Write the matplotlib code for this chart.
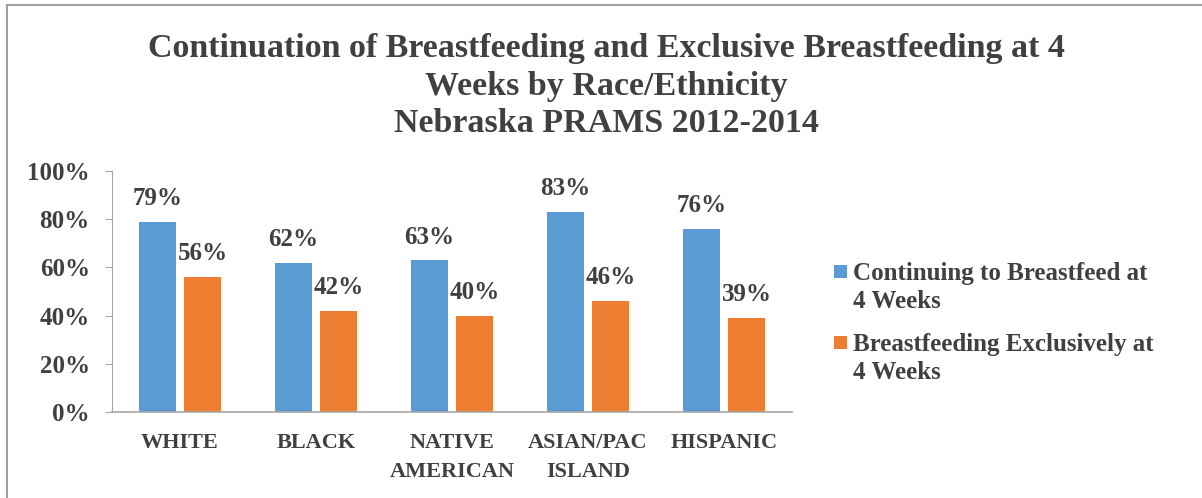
import matplotlib.pyplot as plt
from matplotlib.lines import Line2D
import matplotlib.patches as patches
import numpy as np

categories = ['WHITE', 'BLACK', 'NATIVE\nAMERICAN', 'ASIAN/PAC\nISLAND', 'HISPANIC']
continuing = [79, 62, 63, 83, 76]
exclusive = [56, 42, 40, 46, 39]
series_names = ['Continuing to Breastfeed at\n4 Weeks', 'Breastfeeding Exclusively at\n4 Weeks']
title = ('Continuation of Breastfeeding and Exclusive Breastfeeding at 4\n'
         'Weeks by Race/Ethnicity\nNebraska PRAMS 2012-2014')

blue = '#5b9bd5'
orange = '#ed7d31'
txt = '#404040'
W, H = 1202, 498
plt.rcParams['font.family'] = ['Liberation Serif', 'DejaVu Serif']
plt.rcParams['font.weight'] = 'bold'

fig = plt.figure(figsize=(W / 100, H / 100), dpi=100)
# outer frame (top and left edges only)
fig.lines.append(Line2D([7 / W, 1], [1 - 5 / H, 1 - 5 / H], transform=fig.transFigure,
                        color='#a0a0a0', linewidth=1.5))
fig.lines.append(Line2D([7 / W, 7 / W], [0, 1 - 5 / H], transform=fig.transFigure,
                        color='#a0a0a0', linewidth=1.5))

ax = fig.add_axes([112 / W, 1 - 412 / H, 680 / W, 241 / H])
x = np.arange(len(categories))
w = 0.272
off = 0.166
b1 = ax.bar(x - off, continuing, w, color=blue)
b2 = ax.bar(x + off, exclusive, w, color=orange)
for bars, vals in [(b1, continuing), (b2, exclusive)]:
    for r, v in zip(bars, vals):
        ax.annotate('{}%'.format(v), (r.get_x() + r.get_width() / 2, v), xytext=(0, 12),
                    textcoords='offset points', ha='center', va='baseline',
                    fontsize=18, color=txt, fontweight='bold')

ax.set_xlim(-0.5, len(categories) - 0.5)
ax.set_ylim(0, 100)
ax.set_yticks(range(0, 101, 20))
ax.set_yticklabels(['{}%'.format(t) for t in range(0, 101, 20)], fontsize=18, color=txt)
ax.set_xticks(x)
ax.set_xticklabels(categories, fontsize=16, color=txt, linespacing=1.6)
ax.tick_params(axis='x', length=0, pad=15)
ax.tick_params(axis='y', length=5, color='#a6a6a6', pad=11)
for s in ['top', 'right']:
    ax.spines[s].set_visible(False)
ax.spines['left'].set_color('#a6a6a6')
ax.spines['bottom'].set_color('#a6a6a6')
ax.spines['bottom'].set_linewidth(1.2)

fig.text(606 / W, 1 - 86 / H, title, ha='center', va='center', fontsize=24.5,
         color=txt, fontweight='bold', linespacing=1.27)

# legend, marker aligned with first line of each label
leg_y = [280, 351]
for name, c, yb in zip(series_names, [blue, orange], leg_y):
    fig.patches.append(patches.Rectangle((834 / W, 1 - (yb - 2) / H), 13 / W, 13 / H,
                                         transform=fig.transFigure, facecolor=c,
                                         edgecolor='none'))
    for i, line in enumerate(name.split('\n')):
        fig.text(853 / W, 1 - (yb + 28 * i) / H, line, ha='left', va='baseline',
                 fontsize=18, color=txt, fontweight='bold')

fig.savefig('out.png', dpi=100)
